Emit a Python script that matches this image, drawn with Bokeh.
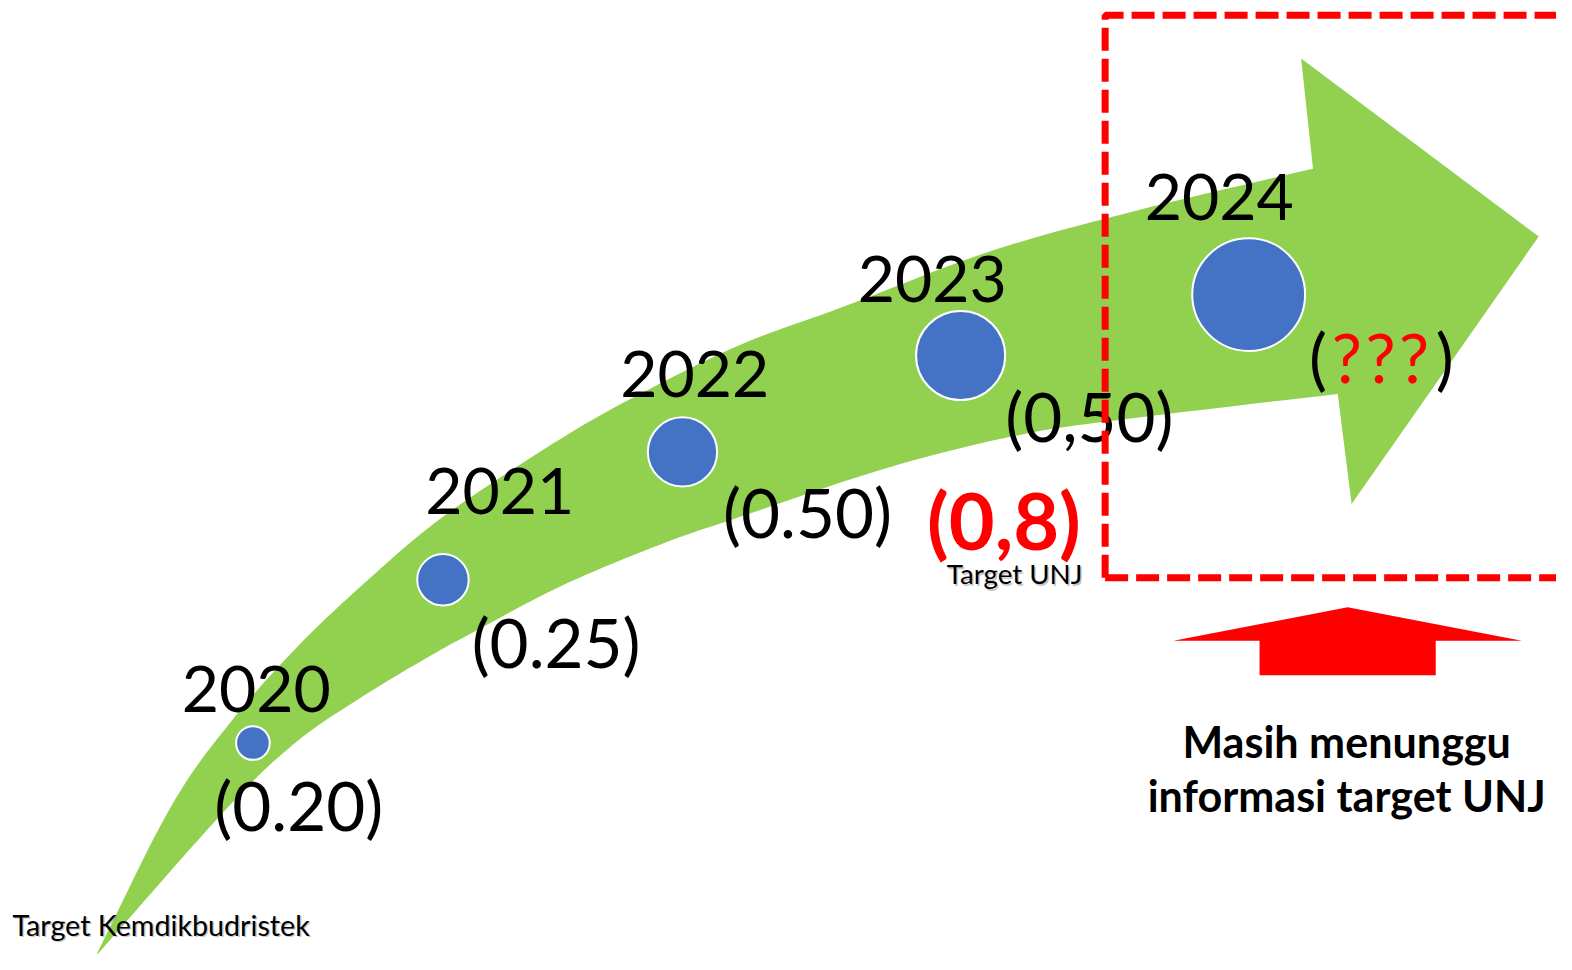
import numpy as np
from bokeh.plotting import figure
from bokeh.models import Range1d
from bokeh.core.properties import value
from bokeh.embed import file_html
from bokeh.resources import INLINE

# ---------------- data ----------------
years = ["2020", "2021", "2022", "2023", "2024"]
target_labels = ["(0.20)", "(0.25)", "(0.50)", "(0,50)"]
unknown_label = ["(", "?", "?", "?", ")"]
unj_target = "(0,8)"
unj_caption = "Target UNJ"
ministry_caption = "Target Kemdikbudristek"
waiting_note = ["Masih menunggu", "informasi target UNJ"]

# ---------------- layout (reference pixels) ----------------
circle_x = [255, 447, 689, 970, 1261]
circle_y = [755, 589, 459, 361, 299]
circle_d = [34, 52, 70, 90, 114]
year_x = [183, 429, 626, 866, 1156]
year_y = [700, 499, 380, 283, 200]
val_x = [216, 476, 730, 1015]
val_y = [818, 652, 520, 422]
unk_x = [1322, 1345, 1379, 1413, 1450]
unk_y = 362

GREEN = "#92D050"
BLUE = "#4472C4"
RED = "#FF0000"
FONT = "Lato"

RW, RH = 1572, 970          # reference canvas
W, H = 1556, 954            # figure size that fits the window
s = W / RW


def px(v):
    return f"{v * s:.1f}px"


p = figure(width=W, height=H, x_range=Range1d(0, RW), y_range=Range1d(RH, 0),
           output_backend="svg", toolbar_location=None,
           x_axis_location=None, y_axis_location=None, min_border=0)
p.grid.visible = False
p.outline_line_color = None
p.background_fill_color = "white"


def catmull(pts, n=12):
    pts = np.asarray(pts, float)
    ext = np.vstack([2 * pts[0] - pts[1], pts, 2 * pts[-1] - pts[-2]])
    out = []
    for i in range(1, len(ext) - 2):
        p0, p1, p2, p3 = ext[i - 1], ext[i], ext[i + 1], ext[i + 2]
        for t in np.linspace(0, 1, n, endpoint=False):
            t2, t3 = t * t, t * t * t
            out.append(0.5 * ((2 * p1) + (-p0 + p2) * t + (2 * p0 - 5 * p1 + 4 * p2 - p3) * t2
                              + (-p0 + 3 * p1 - 3 * p2 + p3) * t3))
    out.append(pts[-1])
    return np.array(out)


# ---------------- green curved arrow ----------------
upper = [(96, 972), (172, 820), (233, 733), (300, 657), (367, 593), (447, 525),
         (567, 445), (650, 398), (750, 349), (850, 312), (1000, 255), (1150, 213), (1326, 171)]
lower = [(96, 972), (230, 820), (300, 753), (367, 707), (433, 667), (480, 641),
         (567, 595), (667, 553), (750, 524), (900, 474), (1033, 441), (1150, 424), (1351, 400)]
head = [(1314, 59), (1554, 240), (1365, 512)]
up = catmull(upper)
lo = catmull(lower)[::-1]
xs = list(up[:, 0]) + [h[0] for h in head] + list(lo[:, 0])
ys = list(up[:, 1]) + [h[1] for h in head] + list(lo[:, 1])
p.patch(xs, ys, fill_color=GREEN, line_color=None)

# ---------------- circles ----------------
p.scatter(circle_x, circle_y, size=[d * s for d in circle_d], marker="circle",
          fill_color=BLUE, line_color="white", line_width=2)

# ---------------- texts ----------------
p.text(year_x, year_y, text=years, text_font=value(FONT), text_font_size=px(65),
       text_color="black", text_baseline="alphabetic", text_align="left")
p.text(val_x, val_y, text=target_labels, text_font=value(FONT), text_font_size=px(68),
       text_color="black", text_baseline="alphabetic", text_align="left")
p.text(unk_x, [unk_y] * len(unk_x), text=unknown_label, text_font=value(FONT),
       text_font_size=px(68),
       text_color=["black", RED, RED, RED, "black"], text_baseline="alphabetic",
       text_align="left")
p.text([936], [528], text=[unj_target], text_font=value(FONT), text_font_size=px(80),
       text_font_style="bold", text_color=RED, text_baseline="alphabetic", text_align="left")

for dx, col, a in [(1.5, "#808080", 0.45), (0, "black", 1.0)]:
    p.text([956 + dx], [583 + dx], text=[unj_caption], text_font=value(FONT),
           text_font_size=px(28), text_color=col, text_alpha=a,
           text_baseline="alphabetic", text_align="left")
    p.text([12 + dx], [940 + dx], text=[ministry_caption], text_font=value(FONT),
           text_font_size=px(29), text_color=col, text_alpha=a,
           text_baseline="alphabetic", text_align="left")

# ---------------- dashed red frame ----------------
p.line([1116, 1116, 1640], [587, 15, 15], line_color=RED, line_width=7, line_dash="23 8")
p.line([1116, 1640], [587, 587], line_color=RED, line_width=7, line_dash="23 8")

# ---------------- red up arrow ----------------
p.patch([1185, 1361, 1537, 1450, 1450, 1272, 1272],
        [651, 617, 651, 651, 686, 686, 651], fill_color=RED, line_color=None)

p.text([1360, 1360], [753, 808], text=waiting_note, text_font=value(FONT),
       text_font_size=px(43.5), text_font_style="bold", text_color="black",
       text_baseline="alphabetic", text_align="center")

open("out.html", "w").write(file_html(p, INLINE))
